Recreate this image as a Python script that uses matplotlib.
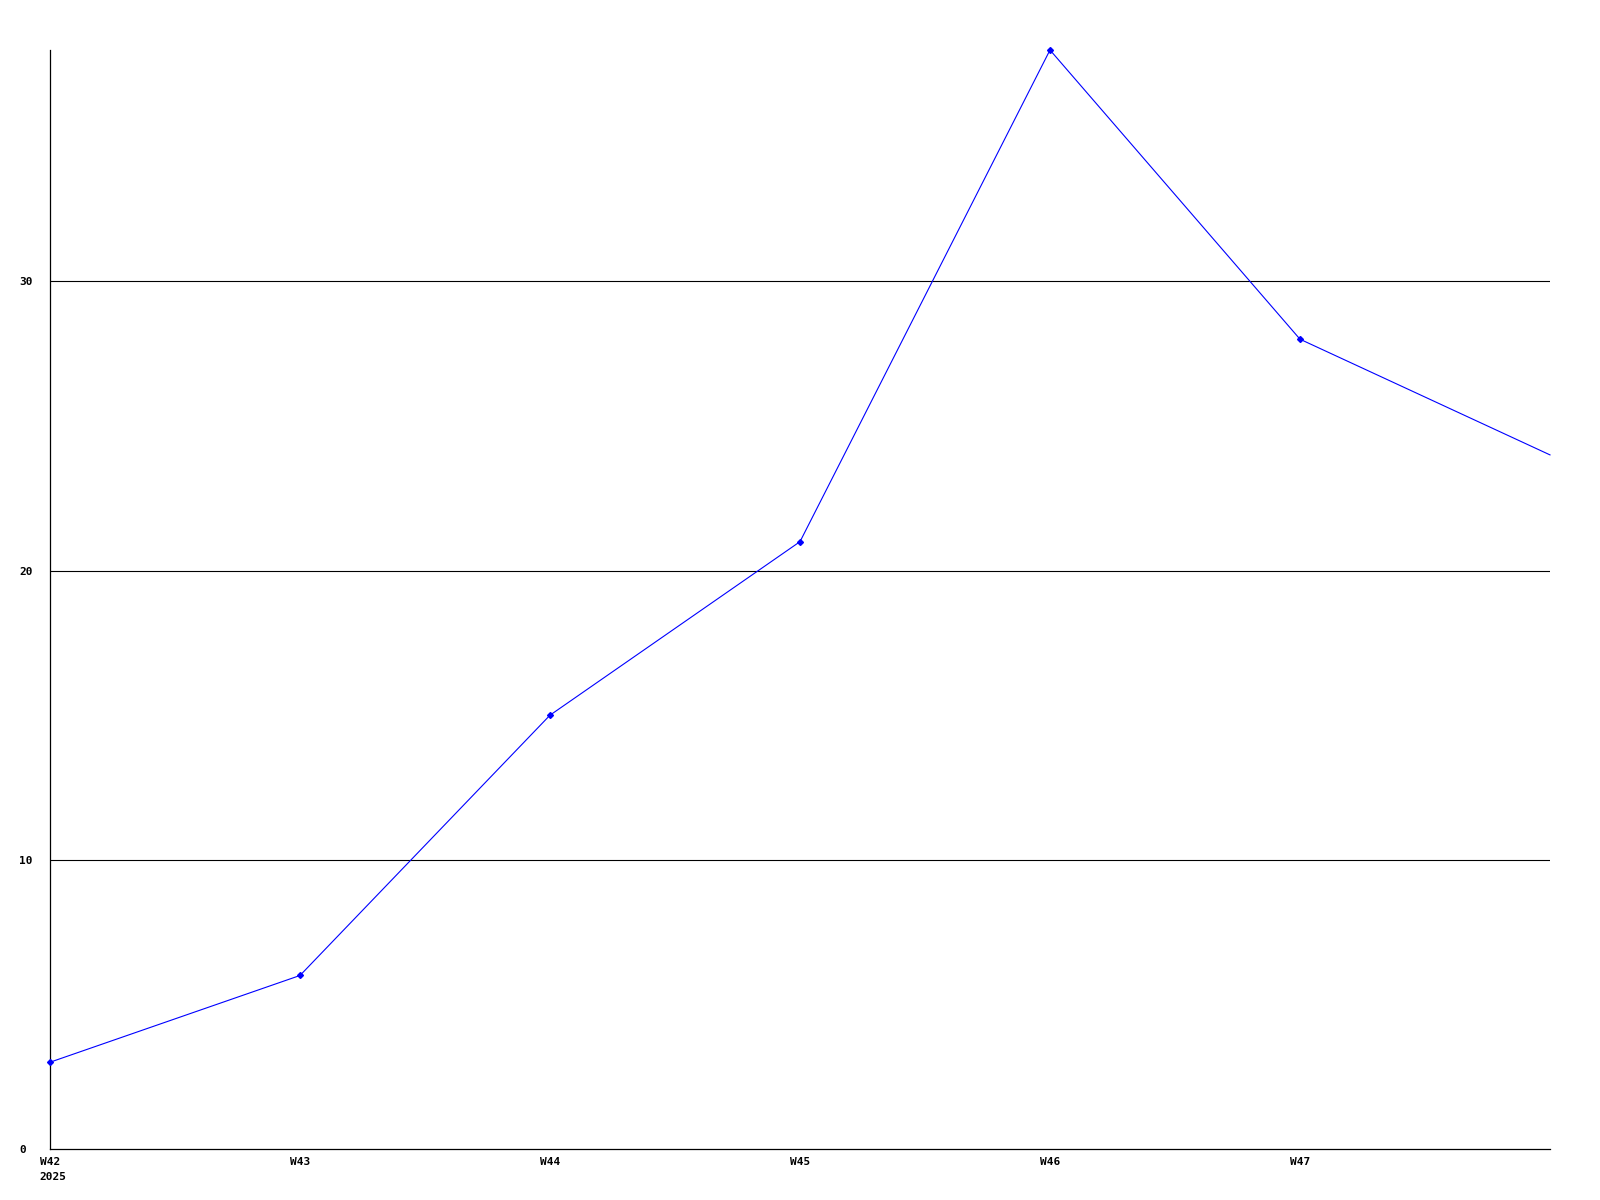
import matplotlib
matplotlib.use("Agg")
import matplotlib.pyplot as plt
from matplotlib.transforms import blended_transform_factory, offset_copy

weeks = ["W42", "W43", "W44", "W45", "W46", "W47", "W48"]
values = [3, 6, 15, 21, 38, 28, 24]
year_label = "2025"
y_ticks = [0, 10, 20, 30]

W, H, DPI = 1600, 1200, 100
fig = plt.figure(figsize=(W / DPI, H / DPI), dpi=DPI)
left, right, top, bottom = 50, 1550, 50, 1149
ax = fig.add_axes([left / W, 1 - bottom / H, (right - left) / W, (bottom - top) / H])

x = list(range(len(weeks)))
ax.plot(x, values, color="#0000ff", linewidth=0.8, clip_on=False, zorder=3)
ax.plot(x[:-1], values[:-1], linestyle="none", marker="D", markersize=3,
        color="#0000ff", clip_on=False, zorder=4)

ax.set_xlim(0, len(weeks) - 1)
ax.set_ylim(0, 38)

for v in y_ticks[1:]:
    ax.axhline(v, color="black", linewidth=0.8, zorder=1)

font = dict(family="DejaVu Sans Mono", weight="bold", size=8)

ax.set_yticks(y_ticks)
ax.set_yticklabels([str(v) for v in y_ticks], **font)
for lab in ax.get_yticklabels():
    lab.set_horizontalalignment("left")
ax.tick_params(axis="y", length=0, pad=22.3)

ax.set_xticks(x[:-1])
ax.set_xticklabels(weeks[:-1], **font)
ax.tick_params(axis="x", length=0, pad=6)

trans = blended_transform_factory(ax.transData, ax.transAxes)
ax.text(0, 0, year_label, transform=offset_copy(trans, fig=fig, x=-11, y=-23, units="dots"),
        ha="left", va="top", **font)

for s in ["top", "right"]:
    ax.spines[s].set_visible(False)
for s in ["left", "bottom"]:
    ax.spines[s].set_color("black")
    ax.spines[s].set_linewidth(0.9)

fig.savefig("out.png", dpi=DPI, facecolor="white")
